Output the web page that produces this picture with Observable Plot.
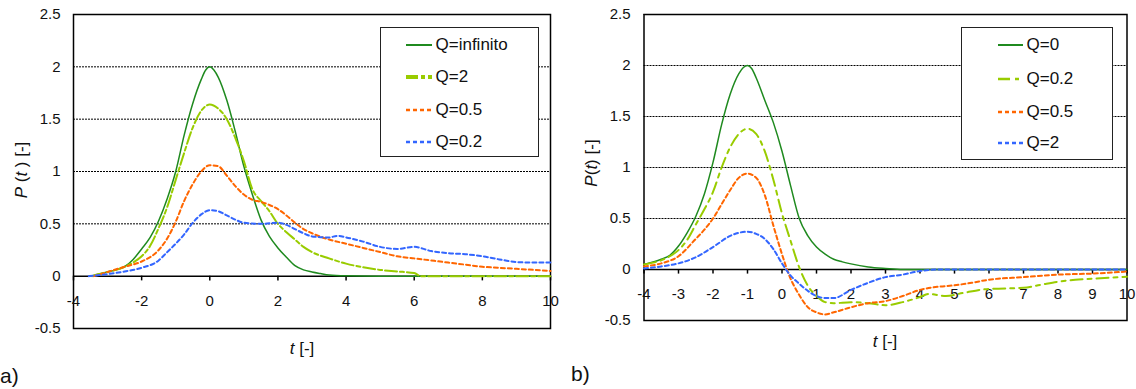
<!DOCTYPE html>
<html>
<head>
<meta charset="utf-8">
<script src="https://cdn.jsdelivr.net/npm/d3@7"></script>
<script src="https://cdn.jsdelivr.net/npm/@observablehq/plot@0.6"></script>
<style>
  html, body { margin: 0; padding: 0; background: #fff; }
  #root { position: relative; width: 1136px; height: 389px; overflow: hidden; font-family: "Liberation Sans", Arial, sans-serif; color: #111; }
  .legend { position: absolute; box-sizing: border-box; border: 1.5px solid #222; background: #fff; }
  .row { position: absolute; left: 0; height: 20px; display: flex; align-items: center; font-size: 17px; white-space: nowrap; }
  .ytitle { position: absolute; font-size: 17px; white-space: nowrap; transform: translate(-50%, -50%) rotate(-90deg); }
  .xtitle { position: absolute; font-size: 17px; white-space: nowrap; transform: translate(-50%, -50%); }
  .tag { position: absolute; font-size: 21px; }
</style>
</head>
<body>
<div id="root"></div>
<script>
// ---------- data ----------
// Panel a)
const aInfT = [-3.5,-3.25,-3,-2.75,-2.5,-2.25,-2,-1.75,-1.5,-1.25,-1,-0.75,-0.5,-0.25,-0.12,0,0.12,0.25,0.5,0.75,1,1.25,1.5,1.75,2,2.25,2.5,2.75,3,3.25,3.5,4,5,6,7,8,9,10];
const aInfP = [0,0.02,0.04,0.06,0.09,0.16,0.26,0.37,0.53,0.74,1.0,1.35,1.65,1.88,1.97,2.0,1.97,1.9,1.68,1.38,1.05,0.78,0.54,0.38,0.27,0.18,0.10,0.06,0.04,0.025,0.012,0.004,0,0,0,0,0,0];

const aQ2T = [-3.45,-3.25,-3,-2.75,-2.5,-2.25,-2,-1.75,-1.5,-1.25,-1,-0.75,-0.5,-0.25,0,0.25,0.5,0.75,1,1.25,1.5,1.75,2,2.25,2.5,2.75,3,3.5,4,4.5,5,5.5,6,6.2,7,8,9,10];
const aQ2P = [0,0.02,0.04,0.06,0.09,0.13,0.19,0.29,0.46,0.66,0.92,1.18,1.42,1.58,1.64,1.6,1.5,1.32,1.1,0.83,0.72,0.62,0.5,0.42,0.35,0.28,0.23,0.17,0.12,0.085,0.06,0.045,0.03,0,0,0,0,0];

const aQ05T = [-3.4,-3,-2.5,-2,-1.5,-1.25,-1,-0.75,-0.5,-0.25,0,0.25,0.5,0.75,1,1.25,1.5,1.75,2,2.25,2.5,2.75,3,3.5,4,4.5,5,5.5,6,6.5,7,7.5,8,8.5,9,9.5,10];
const aQ05P = [0,0.04,0.09,0.14,0.25,0.36,0.52,0.72,0.88,1.0,1.06,1.05,0.96,0.86,0.78,0.73,0.71,0.68,0.64,0.58,0.51,0.45,0.41,0.35,0.31,0.27,0.23,0.19,0.17,0.15,0.13,0.11,0.09,0.08,0.07,0.06,0.05];

const aQ02T = [-3.55,-3,-2.5,-2,-1.5,-1.25,-1,-0.75,-0.5,-0.25,0,0.25,0.5,0.75,1,1.5,2,2.25,2.5,2.75,3,3.5,3.75,4,4.5,5,5.5,6,6.5,7,7.5,8,8.5,9,9.5,10];
const aQ02P = [0,0.02,0.045,0.08,0.15,0.23,0.31,0.40,0.51,0.59,0.63,0.62,0.58,0.54,0.51,0.50,0.51,0.49,0.45,0.41,0.38,0.37,0.385,0.37,0.33,0.28,0.26,0.28,0.24,0.22,0.21,0.19,0.16,0.135,0.13,0.13];

// Panel b)
const bQ0T = [-4,-3.5,-3.25,-3,-2.75,-2.5,-2.25,-2,-1.75,-1.5,-1.25,-1.12,-1,-0.88,-0.75,-0.5,-0.25,0,0.25,0.5,0.75,1,1.25,1.5,1.75,2,2.5,3,3.5,4,5,6,7,8,9,10];
const bQ0P = [0.05,0.10,0.14,0.23,0.36,0.52,0.74,1.05,1.42,1.72,1.92,1.98,2.0,1.97,1.88,1.66,1.44,1.16,0.82,0.50,0.33,0.22,0.15,0.10,0.075,0.055,0.025,0.01,0,0,0,0,0,0,0,0];

const bQ02T = [-4,-3.5,-3.25,-3,-2.75,-2.5,-2.25,-2,-1.75,-1.5,-1.25,-1,-0.75,-0.5,-0.25,0,0.25,0.5,0.75,1,1.25,1.5,2,2.5,3,3.5,4,4.25,4.75,5.25,6,7,7.5,8,8.5,9,9.5,10];
const bQ02P = [0.05,0.09,0.13,0.19,0.29,0.44,0.59,0.76,1.0,1.2,1.33,1.38,1.33,1.16,0.88,0.55,0.28,0.02,-0.16,-0.26,-0.32,-0.33,-0.32,-0.33,-0.35,-0.32,-0.27,-0.24,-0.26,-0.23,-0.19,-0.18,-0.15,-0.12,-0.1,-0.09,-0.08,-0.07];

const bQ05T = [-4,-3.5,-3,-2.5,-2.25,-2,-1.75,-1.5,-1.25,-1,-0.75,-0.5,-0.25,0,0.2,0.5,0.75,1,1.25,1.5,2,2.5,3,3.5,4,4.5,5,5.5,6,7,8,9,10];
const bQ05P = [0.03,0.06,0.13,0.3,0.39,0.5,0.64,0.78,0.9,0.94,0.9,0.73,0.43,0.15,-0.05,-0.25,-0.37,-0.42,-0.44,-0.42,-0.37,-0.33,-0.31,-0.26,-0.2,-0.17,-0.155,-0.13,-0.1,-0.075,-0.05,-0.04,-0.02];

const bQ2T = [-4,-3.5,-3,-2.5,-2,-1.5,-1.25,-1,-0.75,-0.5,-0.25,0,0.25,0.5,0.75,1,1.25,1.5,2,2.5,3,3.5,4,4.5,10];
const bQ2P = [0.01,0.03,0.06,0.12,0.22,0.33,0.36,0.37,0.35,0.3,0.2,0.06,-0.06,-0.14,-0.21,-0.26,-0.28,-0.28,-0.2,-0.13,-0.075,-0.05,-0.015,0,0];

// ticks and labels
const yTicks = [-0.5, 0, 0.5, 1, 1.5, 2, 2.5];
const gridY = [0.5, 1, 1.5, 2, 2.5];
const aXTicks = [-4, -2, 0, 2, 4, 6, 8, 10];
const bXTicks = [-4, -3, -2, -1, 0, 1, 2, 3, 4, 5, 6, 7, 8, 9, 10];
const aNames = ["Q=infinito", "Q=2", "Q=0.5", "Q=0.2"];
const bNames = ["Q=0", "Q=0.2", "Q=0.5", "Q=2"];

// ---------- styles ----------
const DARK = "#1f8a1f", LIME = "#99cc00", ORANGE = "#ff6600", BLUE = "#3366ff";
const aStyles = [
  {stroke: DARK, strokeWidth: 1.5, dash: null, legW: 2},
  {stroke: LIME, strokeWidth: 2, dash: "12,3,4,3", legW: 4},
  {stroke: ORANGE, strokeWidth: 2, dash: "4,3", legW: 2.5},
  {stroke: BLUE, strokeWidth: 2, dash: "4,3", legW: 2.5}
];
const bStyles = [
  {stroke: DARK, strokeWidth: 1.5, dash: null, legW: 2},
  {stroke: LIME, strokeWidth: 2, dash: "12,5,4,5", legW: 2.5},
  {stroke: ORANGE, strokeWidth: 2, dash: "4,3", legW: 2.5},
  {stroke: BLUE, strokeWidth: 2, dash: "4,3", legW: 2.5}
];

const rows = (ts, ps) => ts.map((t, i) => ({t, P: ps[i]}));
const fmt = d => String(d);

function panel({series, styles, xTicks, width, height, mL, mR, mT, mB, pad}) {
  const lineMarks = series.map((s, i) => Plot.line(s, {
    x: "t", y: "P", stroke: styles[i].stroke, strokeWidth: styles[i].strokeWidth,
    strokeDasharray: styles[i].dash || undefined, curve: "monotone-x"
  }));
  return Plot.plot({
    width, height, marginLeft: mL, marginRight: mR, marginTop: mT, marginBottom: mB,
    style: {fontFamily: "'Liberation Sans', Arial, sans-serif", fontSize: "15px", color: "#111", background: "transparent"},
    x: {domain: [-4, 10], axis: null},
    y: {domain: [-0.5, 2.5], ticks: yTicks, tickSize: 0, tickPadding: pad, tickFormat: fmt, label: null},
    marks: [
      Plot.ruleY(gridY, {stroke: "#000", strokeWidth: 1, strokeDasharray: "2,1"}),
      Plot.frame({stroke: "#000", strokeWidth: 1.5}),
      Plot.ruleY([0], {stroke: "#000", strokeWidth: 1.5}),
      Plot.ruleX(xTicks, {x: d => d, y1: 0, y2: -0.045, stroke: "#000", strokeWidth: 1.5}),
      Plot.text(xTicks, {x: d => d, y: 0, dy: 25, text: fmt, fontSize: 15, fill: "#111"}),
      ...lineMarks
    ]
  });
}

const root = document.getElementById("root");

const plotA = panel({
  series: [rows(aInfT, aInfP), rows(aQ2T, aQ2P), rows(aQ05T, aQ05P), rows(aQ02T, aQ02P)],
  styles: aStyles, xTicks: aXTicks, width: 570, height: 340, mL: 73, mR: 20, mT: 14, mB: 12, pad: 13
});
plotA.style.position = "absolute"; plotA.style.left = "0px"; plotA.style.top = "0px";
root.appendChild(plotA);

const plotB = panel({
  series: [rows(bQ0T, bQ0P), rows(bQ02T, bQ02P), rows(bQ05T, bQ05P), rows(bQ2T, bQ2P)],
  styles: bStyles, xTicks: bXTicks, width: 566, height: 340, mL: 73.5, mR: 9.5, mT: 14, mB: 20, pad: 13.5
});
plotB.style.position = "absolute"; plotB.style.left = "570px"; plotB.style.top = "0px";
root.appendChild(plotB);

function addDiv(cls, html, css) {
  const d = document.createElement("div");
  d.className = cls; d.innerHTML = html;
  Object.assign(d.style, css);
  root.appendChild(d);
  return d;
}

// axis titles
addDiv("ytitle", "<i>P</i> (<i>t</i> ) [-]", {left: "22px", top: "170px"});
addDiv("ytitle", "<i>P</i>(<i>t</i>) [-]", {left: "592px", top: "163px"});
addDiv("xtitle", "<i>t</i> [-]", {left: "302px", top: "349px"});
addDiv("xtitle", "<i>t</i> [-]", {left: "885px", top: "342px"});
addDiv("tag", "a)", {left: "0px", top: "364px"});
addDiv("tag", "b)", {left: "571px", top: "362px"});

// legends
function legend(names, styles, box, rowsY, swX, swW, txX) {
  const lg = addDiv("legend", "", {left: box[0] + "px", top: box[1] + "px", width: box[2] + "px", height: box[3] + "px"});
  names.forEach((n, i) => {
    const s = styles[i];
    const r = document.createElement("div");
    r.className = "row";
    r.style.top = (rowsY[i] - 10 - 1.5) + "px";
    r.style.left = (swX - 1.5) + "px";
    r.innerHTML = `<svg width="${swW}" height="10" style="display:block"><line x1="0" y1="5" x2="${swW}" y2="5" stroke="${s.stroke}" stroke-width="${s.legW}" ${s.dash ? `stroke-dasharray="${s.dash}"` : ""}/></svg><span style="margin-left:${txX - swX - swW}px">${n}</span>`;
    lg.appendChild(r);
  });
}
legend(aNames, aStyles, [380, 27, 159, 130], [18, 50.5, 83, 115.5], 26.5, 26, 56);
legend(bNames, bStyles, [961, 27, 152, 133], [18, 52, 85, 116.5], 37, 25, 66);
</script>
</body>
</html>
